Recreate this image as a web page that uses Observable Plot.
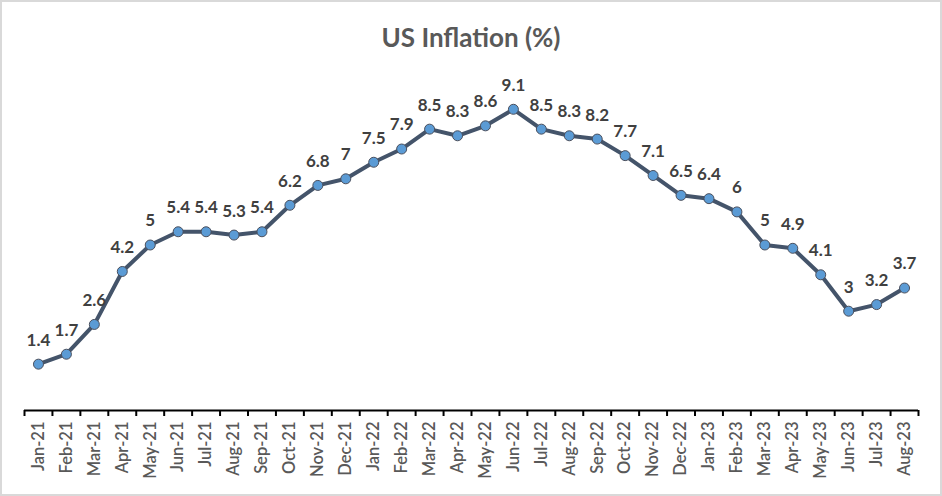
<!DOCTYPE html>
<html>
<head>
<meta charset="utf-8">
<script src="https://cdn.jsdelivr.net/npm/d3@7"></script>
<script src="https://cdn.jsdelivr.net/npm/@observablehq/plot@0.6"></script>
<style>
  html, body { margin: 0; padding: 0; background: #fff; }
  #wrap { position: relative; width: 942px; height: 496px; overflow: hidden; font-family: Lato, sans-serif; }
  #border { position: absolute; left: 0; top: 0; width: 942px; height: 496px; box-sizing: border-box; border: 2px solid #d9d9d9; pointer-events: none; }
  #title { position: absolute; left: 0; width: 942px; top: 19px; text-align: center; font-size: 26px; font-weight: bold; color: #595959; line-height: 36px; }
  #chart { position: absolute; left: 0; top: 0; }
</style>
</head>
<body>
<div id="wrap">
  <div id="chart"></div>
  <div id="title">US Inflation (%)</div>
  <div id="border"></div>
</div>
<script>
const months = ["Jan-21","Feb-21","Mar-21","Apr-21","May-21","Jun-21","Jul-21","Aug-21","Sep-21","Oct-21","Nov-21","Dec-21",
  "Jan-22","Feb-22","Mar-22","Apr-22","May-22","Jun-22","Jul-22","Aug-22","Sep-22","Oct-22","Nov-22","Dec-22",
  "Jan-23","Feb-23","Mar-23","Apr-23","May-23","Jun-23","Jul-23","Aug-23"];
const inflation = [1.4,1.7,2.6,4.2,5,5.4,5.4,5.3,5.4,6.2,6.8,7,
  7.5,7.9,8.5,8.3,8.6,9.1,8.5,8.3,8.2,7.7,7.1,6.5,
  6.4,6,5,4.9,4.1,3,3.2,3.7];

const data = months.map((m, i) => ({i, month: m, value: inflation[i]}));
const tickEdges = d3.range(-0.5, months.length, 1);

const plot = Plot.plot({
  width: 942,
  height: 496,
  marginLeft: 24,
  marginRight: 24,
  marginTop: 79,
  marginBottom: 86,
  style: {fontFamily: "Lato, sans-serif", background: "transparent"},
  x: {domain: [-0.5, months.length - 0.5], axis: null},
  y: {domain: [0, 10], axis: null},
  marks: [
    Plot.axisX({ticks: tickEdges, tickFormat: () => "", tickSize: 6, stroke: "#000", strokeWidth: 2, label: null}),
    Plot.axisX({ticks: d3.range(months.length), tickFormat: i => months[i], tickSize: 0, tickRotate: -90,
      tickPadding: 11, fontSize: 16.5, fill: "#595959", fontWeight: 600, label: null}),
    Plot.ruleY([0], {stroke: "#000", strokeWidth: 2}),
    Plot.line(data, {x: "i", y: "value", stroke: "#44546A", strokeWidth: 4}),
    Plot.dot(data, {x: "i", y: "value", r: 5, fill: "#5B9BD5", stroke: "#4b4f5c", strokeWidth: 1}),
    Plot.text(data, {x: "i", y: "value", text: d => String(d.value), dy: -24, fontSize: 17, fontWeight: "bold", fill: "#404040"})
  ]
});
document.getElementById("chart").appendChild(plot);
</script>
</body>
</html>
